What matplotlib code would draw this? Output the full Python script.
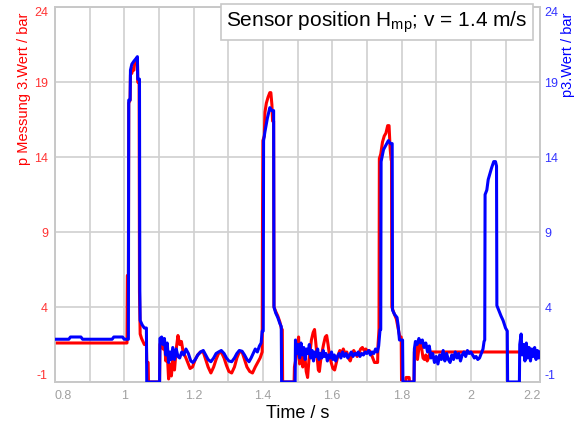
import matplotlib
matplotlib.use('Agg')
import matplotlib.pyplot as plt
from matplotlib.ticker import MultipleLocator

plt.rcParams['font.family'] = ['Liberation Sans', 'DejaVu Sans']
plt.rcParams['axes.unicode_minus'] = False
plt.rcParams['mathtext.fontset'] = 'custom'
plt.rcParams['mathtext.rm'] = 'Liberation Sans'

# Data (time in s, pressure in bar)
red_t = [0.8, 1.008, 1.009, 1.012, 1.013, 1.017, 1.018, 1.022, 1.025, 1.028, 1.03, 1.035,
         1.038, 1.039, 1.043, 1.044, 1.046, 1.05, 1.058, 1.064, 1.065, 1.069, 1.07, 1.102,
         1.103, 1.108, 1.112, 1.116, 1.12, 1.124, 1.128, 1.132, 1.136, 1.14, 1.145, 1.15,
         1.155, 1.16, 1.165, 1.17, 1.178, 1.185, 1.19, 1.197, 1.205, 1.212, 1.22, 1.228,
         1.235, 1.242, 1.25, 1.258, 1.265, 1.272, 1.28, 1.288, 1.295, 1.302, 1.31, 1.318,
         1.325, 1.332, 1.34, 1.347, 1.354, 1.362, 1.37, 1.378, 1.385, 1.392, 1.398, 1.399,
         1.4, 1.404, 1.406, 1.41, 1.415, 1.42, 1.423, 1.426, 1.428, 1.431, 1.432, 1.437,
         1.443, 1.449, 1.454, 1.456, 1.457, 1.49, 1.491, 1.495, 1.5, 1.503, 1.506, 1.51,
         1.515, 1.52, 1.525, 1.529, 1.533, 1.537, 1.54, 1.545, 1.549, 1.553, 1.557, 1.56,
         1.563, 1.567, 1.57, 1.575, 1.58, 1.584, 1.588, 1.592, 1.597, 1.602, 1.607, 1.612,
         1.617, 1.622, 1.627, 1.632, 1.637, 1.642, 1.647, 1.652, 1.657, 1.662, 1.667, 1.672,
         1.677, 1.682, 1.687, 1.692, 1.697, 1.702, 1.707, 1.712, 1.717, 1.722, 1.727, 1.731,
         1.732, 1.735, 1.736, 1.74, 1.745, 1.75, 1.755, 1.76, 1.764, 1.767, 1.77, 1.771,
         1.772, 1.778, 1.785, 1.79, 1.795, 1.799, 1.8, 1.812, 1.813, 1.822, 1.823, 1.836,
         1.837, 1.842, 1.846, 1.852, 1.857, 1.862, 1.866, 1.87, 1.874, 1.878, 1.882, 2.2]
red_p = [1.6, 1.6, 6.1, 6.1, 17.6, 17.8, 19.5, 19.6, 19.9, 19.8, 20.3, 20.5,
         20.6, 19.0, 19.0, 5.0, 2.2, 1.9, 1.5, 1.5, 0.3, 0.3, -1.0, -1.0,
         1.5, 1.8, 1.2, 1.6, 0.4, 1.0, -0.8, 0.2, -0.6, 0.4, -0.2, 1.2,
         2.1, 1.5, 1.7, 1.0, 0.6, 0.2, -0.1, 0.0, 0.5, 0.8, 1.0, 1.0,
         0.5, 0.0, -0.4, 0.0, 0.5, 0.9, 1.0, 0.6, 0.1, -0.3, -0.4, 0.0,
         0.6, 1.0, 1.0, 0.5, 0.0, -0.3, -0.4, 0.0, 0.3, 0.6, 1.0, 10.3,
         15.1, 15.4, 17.0, 17.6, 18.0, 18.3, 18.3, 17.5, 16.4, 16.4, 4.0, 3.7,
         3.4, 3.0, 2.5, 2.5, -1.0, -1.0, 0.0, 0.5, 1.5, 2.0, 0.2, 1.5,
         0.0, 1.0, -0.3, -0.7, 0.5, 1.2, 1.8, 2.3, 2.5, 1.5, 0.5, -0.2,
         -0.3, 0.5, 0.9, 1.5, 2.0, 2.1, 1.5, 0.8, 0.3, -0.1, -0.2, 0.3,
         0.8, 1.1, 0.9, 1.2, 0.9, 1.0, 0.6, 0.4, 0.8, 1.1, 0.9, 0.7,
         0.9, 1.2, 1.3, 1.1, 1.2, 1.0, 1.1, 0.9, 0.6, 0.3, 0.3, 0.3,
         1.4, 2.5, 13.9, 14.2, 15.0, 15.4, 15.6, 16.1, 16.1, 14.6, 13.8, 13.8,
         4.0, 3.6, 3.2, 2.6, 2.0, 2.0, -1.0, -1.0, -0.7, -0.7, -1.0, -1.0,
         1.0, 1.5, 0.5, 1.6, 1.4, 0.6, 0.5, 0.8, 0.4, 0.6, 1.0, 1.0]

blue_t = [0.8, 0.84, 0.845, 0.875, 0.88, 0.965, 0.97, 0.995, 1.0, 1.012, 1.013, 1.017,
          1.018, 1.022, 1.028, 1.035, 1.038, 1.039, 1.044, 1.045, 1.046, 1.052, 1.058, 1.064,
          1.065, 1.102, 1.103, 1.108, 1.112, 1.116, 1.12, 1.124, 1.128, 1.132, 1.136, 1.14,
          1.145, 1.15, 1.155, 1.16, 1.166, 1.172, 1.178, 1.185, 1.192, 1.198, 1.205, 1.212,
          1.22, 1.228, 1.235, 1.242, 1.25, 1.258, 1.265, 1.272, 1.28, 1.288, 1.295, 1.302,
          1.31, 1.318, 1.325, 1.332, 1.34, 1.347, 1.354, 1.36, 1.366, 1.372, 1.378, 1.384,
          1.39, 1.395, 1.398, 1.401, 1.402, 1.406, 1.413, 1.42, 1.426, 1.431, 1.432, 1.437,
          1.443, 1.449, 1.453, 1.454, 1.493, 1.494, 1.498, 1.502, 1.506, 1.51, 1.514, 1.518,
          1.522, 1.526, 1.53, 1.534, 1.538, 1.542, 1.546, 1.55, 1.554, 1.558, 1.562, 1.566,
          1.57, 1.574, 1.578, 1.582, 1.586, 1.59, 1.594, 1.598, 1.602, 1.606, 1.61, 1.615,
          1.62, 1.625, 1.63, 1.635, 1.64, 1.645, 1.65, 1.655, 1.66, 1.665, 1.67, 1.675,
          1.68, 1.685, 1.69, 1.695, 1.7, 1.705, 1.71, 1.715, 1.72, 1.725, 1.73, 1.734,
          1.738, 1.74, 1.741, 1.748, 1.755, 1.762, 1.768, 1.773, 1.774, 1.78, 1.787, 1.79,
          1.794, 1.803, 1.804, 1.836, 1.837, 1.84, 1.845, 1.85, 1.855, 1.86, 1.865, 1.87,
          1.875, 1.88, 1.885, 1.89, 1.895, 1.9, 1.905, 1.91, 1.915, 1.92, 1.925, 1.93,
          1.935, 1.94, 1.945, 1.95, 1.955, 1.96, 1.965, 1.97, 1.975, 1.98, 1.985, 1.99,
          1.995, 2.0, 2.005, 2.01, 2.015, 2.02, 2.025, 2.03, 2.035, 2.038, 2.04, 2.041,
          2.046, 2.05, 2.055, 2.06, 2.066, 2.071, 2.074, 2.075, 2.08, 2.087, 2.093, 2.1,
          2.105, 2.106, 2.14, 2.141, 2.145, 2.148, 2.152, 2.156, 2.16, 2.164, 2.168, 2.172,
          2.176, 2.18, 2.184, 2.188, 2.192, 2.196, 2.2]
blue_p = [1.85, 1.85, 2.0, 2.0, 1.85, 1.85, 2.0, 2.0, 1.85, 1.85, 17.8, 17.8,
          19.8, 20.2, 20.4, 20.6, 20.7, 19.2, 19.2, 5.1, 3.1, 2.8, 2.6, 2.6,
          -1.0, -1.0, 1.9, 2.0, 1.5, 1.9, 0.8, 1.6, 0.3, 1.0, 0.5, 1.3,
          0.5, 1.2, 0.7, 0.6, 1.0, 0.8, 1.2, 0.9, 0.4, 0.3, 0.5, 0.8,
          1.0, 1.1, 0.8, 0.5, 0.35, 0.6, 0.9, 1.0, 1.1, 0.9, 0.6, 0.4,
          0.35, 0.6, 0.9, 1.1, 1.05, 0.8, 0.5, 0.35, 0.6, 0.9, 1.2, 1.0,
          1.4, 1.6, 2.4, 2.4, 15.1, 15.7, 16.6, 17.3, 17.1, 17.1, 4.0, 3.6,
          3.3, 2.9, 2.7, -1.0, -1.0, 1.8, 0.9, 1.5, 0.6, 1.6, 0.8, 1.3,
          0.5, 1.2, 0.9, 1.5, 0.6, 1.1, 0.4, 1.0, 0.7, 1.2, 0.5, 0.9,
          0.6, 1.1, 0.7, 0.9, 0.4, 0.8, 0.6, 1.0, 0.5, 0.8, 0.4, 0.7,
          0.9, 0.6, 1.0, 0.7, 0.9, 0.6, 0.8, 1.0, 0.7, 0.9, 0.8, 1.0,
          0.7, 0.9, 0.8, 1.0, 0.9, 1.1, 0.8, 1.0, 0.9, 1.2, 1.0, 1.4,
          2.5, 2.5, 13.7, 14.5, 14.8, 15.1, 14.9, 14.9, 3.8, 3.5, 3.3, 2.8,
          1.8, 1.8, -1.0, -1.0, 1.2, 1.7, 1.5, 1.9, 1.6, 1.8, 1.3, 1.6,
          1.0, 1.4, 0.6, 0.9, 0.3, 0.7, 0.2, 0.8, 0.5, 1.1, 0.4, 0.9,
          0.5, 0.3, 0.8, 0.5, 1.0, 0.6, 0.9, 0.4, 0.8, 1.0, 0.7, 1.1,
          0.9, 1.0, 0.8, 0.6, 0.7, 0.5, 0.6, 0.9, 1.2, 1.7, 1.8, 11.5,
          11.8, 12.5, 12.9, 13.3, 13.7, 13.7, 13.4, 4.1, 3.8, 3.4, 3.1, 2.6,
          2.4, -1.0, -1.0, 1.5, 2.2, 0.8, 1.5, 0.4, 1.6, 0.6, 1.3, 0.4,
          1.2, 0.7, 1.3, 0.5, 1.1, 0.6, 1.0]

x_ticks = [0.8, 1.0, 1.2, 1.4, 1.6, 1.8, 2.0, 2.2]
x_tick_labels = ['0.8', '1', '1.2', '1.4', '1.6', '1.8', '2', '2.2']
y_ticks = [-1, 4, 9, 14, 19, 24]

fig = plt.figure(figsize=(5.84, 4.23), dpi=100)
ax = fig.add_axes([0.094, 0.097, 0.831, 0.886])
ax2 = ax.twinx()

ax.plot(red_t, red_p, color='#ff0000', lw=2.2, zorder=3)
ax2.plot(blue_t, blue_p, color='#0000ff', lw=2.2, zorder=3)

for a in (ax, ax2):
    a.set_xlim(0.8, 2.2)
    a.set_ylim(-1, 24)
    a.set_yticks(y_ticks)
    for s in a.spines.values():
        s.set_color('#c8c8c8')
        s.set_linewidth(1.2)

ax.set_xticks(x_ticks)
ax.set_xticklabels(x_tick_labels)
ax.xaxis.set_minor_locator(MultipleLocator(0.1))
ax.grid(True, which='both', color='#d0d0d0', lw=1.2)
ax.set_axisbelow(True)
ax.tick_params(axis='x', which='both', length=0, colors='#a0a0a0', labelsize=9, pad=6)
ax.tick_params(axis='y', length=0, colors='#ff3333', labelsize=9, pad=5)
ax2.tick_params(axis='y', length=0, colors='#3333ff', labelsize=9, pad=3)

# keep the end labels inside the plot area
xl = ax.get_xticklabels()
xl[0].set_horizontalalignment('left')
xl[-1].set_horizontalalignment('right')
for a in (ax, ax2):
    yl = a.get_yticklabels()
    yl[0].set_verticalalignment('bottom')
    yl[-1].set_verticalalignment('top')

ax.set_ylabel('p Messung 3.Wert / bar', color='#ff0000', fontsize=10.5, loc='top', labelpad=2)
ax2.set_ylabel('p3.Wert / bar', color='#0000ff', fontsize=10.5, loc='top', labelpad=2)
ax.yaxis.label.set_y(0.985)
ax2.yaxis.label.set_y(0.985)
ax.set_xlabel('Time / s', fontsize=13, labelpad=2)

fig.text(0.903, 0.978, 'Sensor position H$_{\\mathrm{mp}}$; v = 1.4 m/s',
         ha='right', va='top', fontsize=15,
         bbox=dict(boxstyle='square,pad=0.25', fc='white', ec='#c8c8c8', lw=1.2),
         zorder=5)

fig.savefig('out.png', dpi=100)
